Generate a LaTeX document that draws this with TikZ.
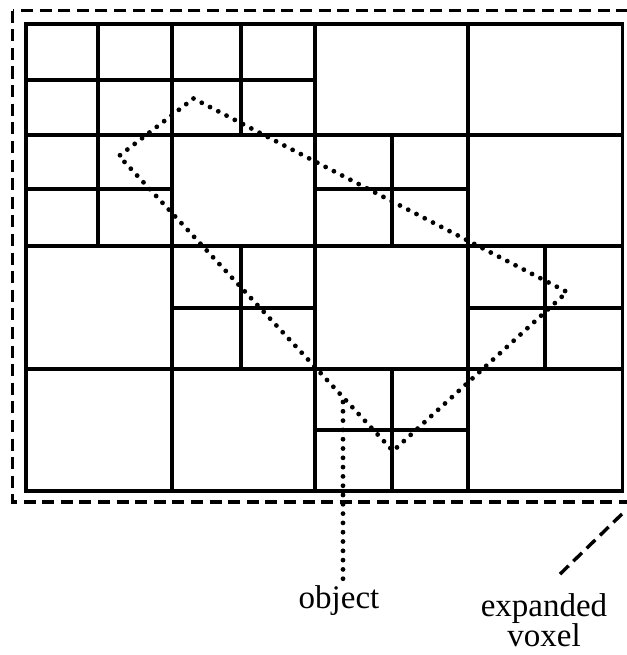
\documentclass[tikz,border=0pt]{standalone}
\usepackage{fontspec}
\setmainfont{Liberation Serif}
\newcommand\mylblfont{\fontsize{33bp}{30bp}\selectfont\lineskiplimit=-1000pt\relax}
\begin{document}
\begin{tikzpicture}[x=1bp,y=-1bp,
  gridline/.style={line width=3.1bp, line cap=rect},
  dashbox/.style={line width=3.4bp, dash pattern=on 12bp off 6.6bp},
  dotline/.style={line width=4.8bp, line cap=round, dash pattern=on 0pt off 9.3bp},
  lbl/.style={inner sep=0pt, font=\mylblfont}]
\useasboundingbox (0,0) rectangle (627,655);
% expanded voxel (dashed)
\draw[dashbox] (12.7,10.7) rectangle (629,502);
% column and row positions
\def\cA{26}\def\cB{98}\def\cC{172}\def\cD{241}\def\cE{315}\def\cF{392}\def\cG{468}\def\cH{545}\def\cI{622.7}
\def\rA{24}\def\rB{80}\def\rC{135}\def\rD{189}\def\rE{246}\def\rF{308}\def\rG{369}\def\rH{430}\def\rI{491}
% grid border
\draw[gridline] (\cA,\rA) rectangle (\cI,\rI);
% level 0 / level 1 splits
\draw[gridline] (\cE,\rA) -- (\cE,\rI);
\draw[gridline] (\cA,\rE) -- (\cI,\rE);
\draw[gridline] (\cC,\rA) -- (\cC,\rI);
\draw[gridline] (\cG,\rA) -- (\cG,\rI);
\draw[gridline] (\cA,\rC) -- (\cI,\rC);
\draw[gridline] (\cA,\rG) -- (\cI,\rG);
% level 2 splits
\draw[gridline] (\cB,\rA) -- (\cB,\rE);
\draw[gridline] (\cA,\rB) -- (\cE,\rB);
\draw[gridline] (\cD,\rA) -- (\cD,\rC);
\draw[gridline] (\cA,\rD) -- (\cC,\rD);
\draw[gridline] (\cF,\rC) -- (\cF,\rE);
\draw[gridline] (\cE,\rD) -- (\cG,\rD);
\draw[gridline] (\cD,\rE) -- (\cD,\rG);
\draw[gridline] (\cC,\rF) -- (\cE,\rF);
\draw[gridline] (\cH,\rE) -- (\cH,\rG);
\draw[gridline] (\cG,\rF) -- (\cI,\rF);
\draw[gridline] (\cF,\rG) -- (\cF,\rI);
\draw[gridline] (\cE,\rH) -- (\cG,\rH);
% object (dotted)
\coordinate (oT) at (193.5,98.5);
\coordinate (oR) at (567,292);
\coordinate (oB) at (393,451);
\coordinate (oL) at (119,156);
\draw[dotline] (oT) -- (oR) -- (oB) -- (oL) -- cycle;
% labels
\node[lbl, anchor=base] (objlbl) at (339,608) {object};
\node[lbl, align=center, anchor=center] (vxlbl) at (544,620) {expanded\\voxel};
% leaders
\coordinate (objpt) at (343,402);
\draw[dotline] (objpt) -- ([yshift=-3bp]objpt |- objlbl.north);
\coordinate (vxpt) at (622,514);
\coordinate (vxend) at (557,577);
\draw[dashbox] (vxpt) -- (vxend);
\end{tikzpicture}
\end{document}
